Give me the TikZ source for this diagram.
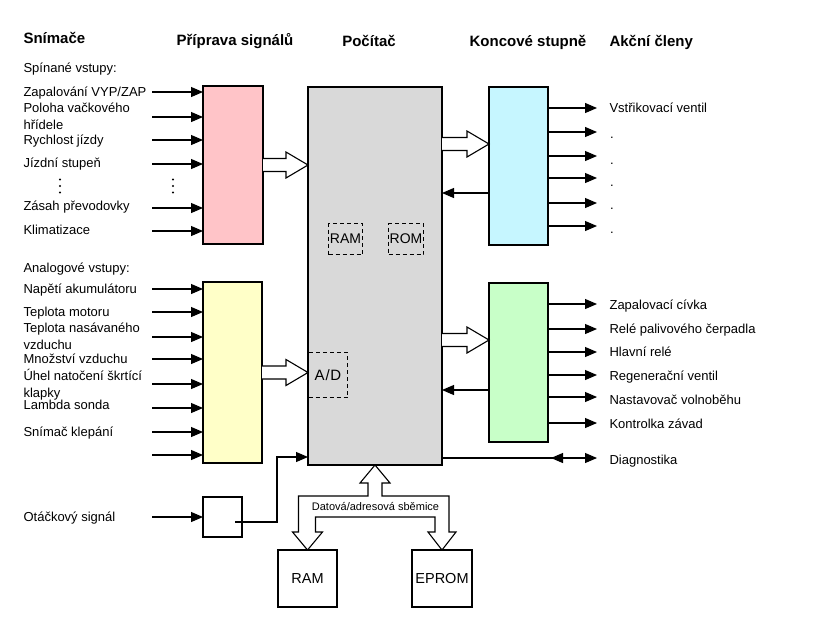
\documentclass[tikz,border=0pt]{standalone}
\usepackage{fontspec}
\setmainfont{Liberation Sans}
\usetikzlibrary{arrows.meta,calc}
\definecolor{pinkc}{RGB}{255,196,200}
\definecolor{yellowc}{RGB}{255,255,200}
\definecolor{grayc}{RGB}{217,217,217}
\definecolor{cyanc}{RGB}{198,246,255}
\definecolor{greenc}{RGB}{200,255,200}
\newcommand\harrow[2]{\draw[fill=white,line width=1.1pt,line join=miter]
  ($(#1)+(0,-6.5)$) -- ($(#2)+(-22,-6.5)$) -- ($(#2)+(-22,-13)$) -- (#2) --
  ($(#2)+(-22,13)$) -- ($(#2)+(-22,6.5)$) -- ($(#1)+(0,6.5)$);}
\begin{document}
\begin{tikzpicture}[x=1pt,y=-1pt,
  line width=1.1pt,
  box/.style={draw, line width=1.1pt, inner sep=0pt, outer sep=0pt, anchor=north west},
  lbl/.style={anchor=base west, inner sep=0pt, font=\fontsize{13}{17}\selectfont, align=left},
  hdr/.style={anchor=base, inner sep=0pt, font=\fontsize{15}{18}\selectfont\bfseries},
  arr/.style={-{Triangle[length=12pt,width=10pt]}, line width=1.1pt},
  dbox/.style={draw, dash pattern=on 4pt off 3pt, line width=1pt, inner sep=0pt, anchor=north west, font=\fontsize{14}{14}\selectfont},
  bigtxt/.style={font=\fontsize{14.5}{15}\selectfont}
]
\useasboundingbox (0,0) rectangle (819,625);

% headers
\node[hdr, anchor=base west] (h1) at (23,43) {Snímače};
\node[hdr] (h2) at (235,45) {Příprava signálů};
\node[hdr] (h3) at (369,46) {Počítač};
\node[hdr] (h4) at (528,46) {Koncové stupně};
\node[hdr, anchor=base west] (h5) at (609,46) {Akční členy};

% boxes
\node[box, fill=pinkc, minimum width=60pt, minimum height=158pt] (pink) at (203,86) {};
\node[box, fill=yellowc, minimum width=59pt, minimum height=181pt] (yellow) at (203,282) {};
\node[box, fill=grayc, minimum width=134pt, minimum height=378pt] (gray) at (308,87) {};
\node[box, fill=cyanc, minimum width=59pt, minimum height=158pt] (cyan) at (489,87) {};
\node[box, fill=greenc, minimum width=59pt, minimum height=159pt] (green) at (489,283) {};
\node[box, fill=white, minimum width=39pt, minimum height=40pt] (small) at (203,497) {};
\node[box, fill=white, minimum width=59pt, minimum height=57pt, bigtxt] (ram) at (278,550) {};
\node[bigtxt] (ramt) at (ram.center) {RAM};
\node[box, fill=white, minimum width=60pt, minimum height=57pt, bigtxt] (eprom) at (412,550) {};
\node[bigtxt] (epromt) at (eprom.center) {EPROM};

% dashed boxes inside computer
\node[dbox, minimum width=34pt, minimum height=31pt] (ramd) at (328,223) {};
\node[font=\fontsize{14}{14}\selectfont, inner sep=0pt] (ramdt) at (ramd.center) {RAM};
\node[dbox, minimum width=35pt, minimum height=31pt] (romd) at (388,223) {};
\node[font=\fontsize{14}{14}\selectfont, inner sep=0pt] (romdt) at (romd.center) {ROM};
\node[dbox, minimum width=39pt, minimum height=45pt] (ad) at (308,352) {};
\node[font=\fontsize{15}{15}\selectfont, inner sep=0pt] (adt) at (ad.center) {A\kern0.8pt/\kern0.8pt D};

% left labels (switched inputs)
\node[lbl] (l0) at (23,72.5) {Spínané vstupy:};
\node[lbl] (l1) at (23,96.5) {Zapalování VYP/ZAP};
\node[lbl] (l2) at (23,129.5) {Poloha vačkového\\hřídele};
\node[lbl] (l3) at (23,144.5) {Rychlost jízdy};
\node[lbl] (l4) at (23,167.5) {Jízdní stupeň};
\node[lbl] (l5) at (23,210.5) {Zásah převodovky};
\node[lbl] (l6) at (23,234.5) {Klimatizace};
\foreach \yy in {179.5,186,192.5} {
  \fill (60,\yy) circle (1.2pt);
  \fill (173,\yy) circle (1.2pt);
}

% left labels (analog inputs)
\node[lbl] (a0) at (23,272.5) {Analogové vstupy:};
\node[lbl] (a1) at (23,293.5) {Napětí akumulátoru};
\node[lbl] (a2) at (23,316.5) {Teplota motoru};
\node[lbl] (a3) at (23,349.5) {Teplota nasávaného\\vzduchu};
\node[lbl] (a4) at (23,363.5) {Množství vzduchu};
\node[lbl] (a5) at (23,397.5) {Úhel natočení škrtící\\klapky};
\node[lbl] (a6) at (23,409.5) {Lambda sonda};
\node[lbl] (a7) at (23,436.5) {Snímač klepání};
\node[lbl] (a8) at (23,521) {Otáčkový signál};

% input arrows
\foreach \yy [count=\i] in {92,117,140,164,208,231} {
  \coordinate (pin\i) at (152,\yy);
  \draw[arr] (pin\i) -- (pin\i -| pink.west);
}
\foreach \yy [count=\i] in {289,312,337,359,384,408,432,455} {
  \coordinate (yin\i) at (152,\yy);
  \draw[arr] (yin\i) -- (yin\i -| yellow.west);
}
\coordinate (sin) at (152,517);
\draw[arr] (sin) -- (sin -| small.west);

% small box to computer
\coordinate (sbs) at (235,522);
\draw[arr] (sbs) -- ++(42,0) |- (gray.west |- 0,457);

% hollow arrows
\coordinate (pa) at (pink.east);
\coordinate (pb) at (gray.west |- pink.east);
\harrow{pa}{pb}
\coordinate (ya) at (yellow.east);
\coordinate (yb) at (gray.west |- yellow.east);
\harrow{ya}{yb}
\coordinate (cb) at ([yshift=22pt]cyan.west);
\coordinate (ca) at (gray.east |- cb);
\harrow{ca}{cb}
\coordinate (gb) at ([yshift=22.5pt]green.west);
\coordinate (ga) at (gray.east |- gb);
\harrow{ga}{gb}

% feedback arrows
\draw[arr] (cyan.west |- 0,193) -- (gray.east |- 0,193);
\draw[arr] (green.west |- 0,390) -- (gray.east |- 0,390);

% outputs cyan
\foreach \yy [count=\i] in {108,132,156,178,203,226} {
  \coordinate (co\i) at (597,\yy);
  \draw[arr] (co\i -| cyan.east) -- (co\i);
}
\node[lbl] (r1) at (609,112.5) {Vstřikovací ventil};
\foreach \yy [count=\i] in {138.5,164.5,186.5,209.5,233.5} {
  \node[lbl] (rd\i) at (609.5,\yy) {.};
}

% outputs green
\foreach \yy [count=\i] in {304,329,352,375,397,423} {
  \coordinate (go\i) at (597,\yy);
  \draw[arr] (go\i -| green.east) -- (go\i);
}
\node[lbl] (g1) at (609,309.5) {Zapalovací cívka};
\node[lbl] (g2) at (609,333.5) {Relé palivového čerpadla};
\node[lbl] (g3) at (609,356.5) {Hlavní relé};
\node[lbl] (g4) at (609,380.5) {Regenerační ventil};
\node[lbl] (g5) at (609,404.5) {Nastavovač volnoběhu};
\node[lbl] (g6) at (609,428.5) {Kontrolka závad};

% diagnostics
\coordinate (dg) at (597,458);
\coordinate (dgl) at (551,458);
\draw[arr] (gray.east |- dg) -- (dg);
\draw[arr] ($(dgl)+(13,0)$) -- (dgl);
\node[lbl] (dgt) at (609,464.5) {Diagnostika};

% data/address bus
\coordinate (G) at (gray.south);
\coordinate (R) at (ram.north);
\coordinate (E) at (eprom.north);
\draw[fill=white, line width=1.1pt, line join=miter]
  (G) -- ($(G)+(15,18)$) -- ($(G)+(7,18)$) -- ($(G)+(7,31)$) --
  ($(E)+(7,-54)$) -- ($(E)+(7,-18)$) -- ($(E)+(14,-18)$) -- (E) --
  ($(E)+(-14,-18)$) -- ($(E)+(-7,-18)$) -- ($(E)+(-7,-33)$) --
  ($(R)+(8,-33)$) -- ($(R)+(8,-18)$) -- ($(R)+(15,-18)$) -- (R) --
  ($(R)+(-15,-18)$) -- ($(R)+(-9,-18)$) -- ($(R)+(-9,-54)$) --
  ($(G)+(-7,31)$) -- ($(G)+(-7,18)$) -- ($(G)+(-15,18)$) -- cycle;
\node[anchor=base, inner sep=0pt, font=\fontsize{11}{11}\selectfont] (bus) at (375.5,510) {Datová/adresová sběmice};
\end{tikzpicture}
\end{document}
